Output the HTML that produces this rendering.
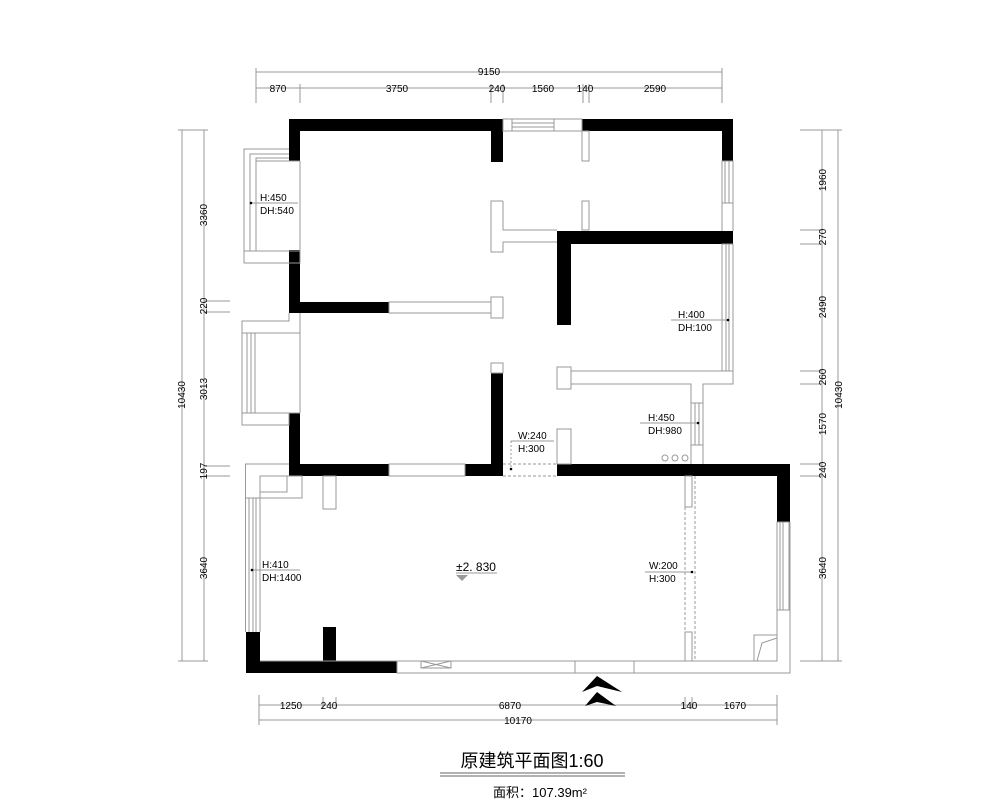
<!DOCTYPE html>
<html><head><meta charset="utf-8"><style>
html,body{margin:0;padding:0;background:#fff;}
svg{display:block;}
text{font-family:"Liberation Sans","Noto Sans CJK SC",sans-serif;fill:#000;}
.t{stroke:#999;stroke-width:1;fill:none;}
.w{fill:#000;}
.d{font-size:10px;}
</style></head><body>
<svg width="1000" height="811" viewBox="0 0 1000 811" xmlns="http://www.w3.org/2000/svg">
<!-- black walls -->
<g class="w">
<rect x="289" y="119" width="214" height="12"/>
<rect x="491" y="119" width="12" height="43"/>
<rect x="582" y="119" width="151" height="12"/>
<rect x="722" y="119" width="11" height="42"/>
<rect x="289" y="119" width="11" height="42"/>
<rect x="289" y="250" width="11" height="63"/>
<rect x="289" y="302" width="100" height="11"/>
<rect x="289" y="413" width="11" height="63"/>
<rect x="289" y="464" width="100" height="12"/>
<rect x="465" y="464" width="38" height="12"/>
<rect x="491" y="373" width="12" height="103"/>
<rect x="557" y="231" width="14" height="94"/>
<rect x="557" y="231" width="176" height="13"/>
<rect x="557" y="464" width="233" height="12"/>
<rect x="777" y="464" width="13" height="58"/>
<rect x="246" y="632" width="14" height="41"/>
<rect x="246" y="661" width="151" height="12"/>
<rect x="323" y="627" width="13" height="46"/>
</g>
<!-- thin lines -->
<g class="t">
<!-- top window -->
<rect x="503" y="119" width="79" height="12"/>
<line x1="512" y1="123" x2="554" y2="123"/><line x1="512" y1="127" x2="554" y2="127"/>
<line x1="512" y1="119" x2="512" y2="131"/><line x1="554" y1="119" x2="554" y2="131"/>
<rect x="582" y="131" width="7" height="30"/>
<rect x="582" y="201" width="7" height="29"/>
<!-- T partition -->
<polyline points="503,201 491,201 491,252 503,252 503,242 557,242"/>
<polyline points="503,201 503,230 557,230"/>
<!-- right top window -->
<rect x="722" y="161" width="11" height="42"/>
<line x1="725" y1="161" x2="725" y2="203"/><line x1="729" y1="161" x2="729" y2="203"/>
<line x1="722" y1="203" x2="722" y2="231"/><line x1="733" y1="203" x2="733" y2="231"/>
<!-- right wall below L -->
<rect x="722" y="244" width="11" height="127"/>
<line x1="726" y1="244" x2="726" y2="371"/><line x1="729" y1="244" x2="729" y2="371"/>
<polyline points="571,371 733,371 733,384 703,384 703,464"/>
<polyline points="571,384 691,384 691,464"/>
<rect x="557" y="367" width="14" height="22"/>
<rect x="691" y="403" width="12" height="42"/>
<line x1="695" y1="403" x2="695" y2="445"/><line x1="699" y1="403" x2="699" y2="445"/>
<rect x="557" y="429" width="14" height="35"/>
<!-- left upper window -->
<polyline points="289,149 244,149 244,263 300,263 300,250"/>
<line x1="244" y1="251" x2="300" y2="251"/>
<polyline points="289,154 250,154 250,251"/>
<polyline points="289,158 256,158 256,251"/>
<line x1="256" y1="161" x2="300" y2="161"/>
<line x1="300" y1="161" x2="300" y2="250"/>
<!-- left middle window -->
<polyline points="289,313 289,321 242,321 242,425 289,425 289,413"/>
<line x1="242" y1="333" x2="300" y2="333"/>
<line x1="242" y1="413" x2="300" y2="413"/>
<line x1="247" y1="333" x2="247" y2="413"/><line x1="251" y1="333" x2="251" y2="413"/><line x1="255" y1="333" x2="255" y2="413"/>
<line x1="300" y1="313" x2="300" y2="413"/>
<!-- thin walls -->
<rect x="389" y="302" width="102" height="11"/>
<rect x="491" y="297" width="12" height="21"/>
<rect x="389" y="464" width="76" height="12"/>
<rect x="491" y="363" width="12" height="10"/>
<!-- opening dashed -->
<line x1="503" y1="464" x2="557" y2="464" stroke-dasharray="3,2"/>
<line x1="503" y1="476" x2="557" y2="476" stroke-dasharray="3,2"/>
<line x1="511" y1="441" x2="511" y2="469" stroke-dasharray="2,2"/>
<!-- lower left -->
<polyline points="289,464 245.5,464 245.5,632"/>
<line x1="260" y1="476" x2="289" y2="476"/>
<rect x="260" y="476" width="42" height="22"/>
<polyline points="260,492 287,492 287,476"/>
<line x1="249" y1="498" x2="249" y2="632"/><line x1="253" y1="498" x2="253" y2="632"/><line x1="256" y1="498" x2="256" y2="632"/>
<line x1="260" y1="498" x2="260" y2="632"/>
<line x1="245.5" y1="498" x2="260" y2="498"/>
<rect x="323" y="476" width="13" height="33"/>
<!-- bottom -->
<line x1="260" y1="661" x2="685" y2="661"/>
<line x1="692" y1="661" x2="777" y2="661"/>
<polyline points="397,661 397,673 790,673 790,522"/>
<line x1="575" y1="661" x2="575" y2="673"/><line x1="634" y1="661" x2="634" y2="673"/>
<rect x="421" y="661" width="30" height="7"/>
<line x1="421" y1="661" x2="451" y2="668"/><line x1="421" y1="668" x2="451" y2="661"/>
<!-- right partition -->
<rect x="685" y="476" width="7" height="31"/>
<rect x="685" y="632" width="7" height="29"/>
<line x1="685" y1="507" x2="685" y2="632" stroke-dasharray="3,2"/>
<line x1="695" y1="476" x2="695" y2="661" stroke-dasharray="3,2"/>
<!-- right window -->
<rect x="777" y="522" width="12" height="88"/>
<line x1="780" y1="522" x2="780" y2="610"/><line x1="783" y1="522" x2="783" y2="610"/>
<line x1="777" y1="610" x2="777" y2="661"/>
<rect x="754" y="635" width="23" height="26"/>
<polyline points="757,661 762,643 777,638"/>
<!-- circles -->
<circle cx="665" cy="458" r="3"/><circle cx="675" cy="458" r="3"/><circle cx="685" cy="458" r="3"/>
<!-- label leaders -->
<line x1="250" y1="203" x2="298" y2="203"/>
<line x1="671" y1="320" x2="728" y2="320"/>
<line x1="640" y1="423" x2="698" y2="423"/>
<line x1="511" y1="441" x2="554" y2="441"/>
<line x1="252" y1="570" x2="300" y2="570"/>
<line x1="645" y1="572" x2="692" y2="572"/>
<line x1="456" y1="573" x2="497" y2="573"/>
<!-- dims top -->
<line x1="256" y1="72" x2="722" y2="72"/>
<line x1="256" y1="88" x2="722" y2="88"/>
<line x1="256" y1="68" x2="256" y2="103"/><line x1="722" y1="68" x2="722" y2="103"/>
<line x1="300" y1="84" x2="300" y2="103"/><line x1="491" y1="84" x2="491" y2="103"/><line x1="503" y1="84" x2="503" y2="103"/>
<line x1="583" y1="84" x2="583" y2="103"/><line x1="589" y1="84" x2="589" y2="103"/>
<!-- dims left -->
<line x1="182" y1="130" x2="182" y2="661"/>
<line x1="204" y1="130" x2="204" y2="661"/>
<line x1="178" y1="130" x2="208" y2="130"/><line x1="178" y1="661" x2="208" y2="661"/>
<line x1="204" y1="301" x2="230" y2="301"/><line x1="204" y1="312" x2="230" y2="312"/>
<line x1="204" y1="466" x2="230" y2="466"/><line x1="204" y1="476" x2="230" y2="476"/>
<!-- dims right -->
<line x1="822" y1="130" x2="822" y2="661"/>
<line x1="838" y1="130" x2="838" y2="661"/>
<line x1="800" y1="130" x2="842" y2="130"/><line x1="800" y1="661" x2="842" y2="661"/>
<line x1="800" y1="230" x2="822" y2="230"/><line x1="800" y1="244" x2="822" y2="244"/>
<line x1="800" y1="371" x2="822" y2="371"/><line x1="800" y1="384" x2="822" y2="384"/>
<line x1="800" y1="464" x2="822" y2="464"/><line x1="800" y1="476" x2="822" y2="476"/>
<!-- dims bottom -->
<line x1="259" y1="705" x2="777" y2="705"/>
<line x1="259" y1="720" x2="777" y2="720"/>
<line x1="259" y1="695" x2="259" y2="725"/><line x1="777" y1="695" x2="777" y2="725"/>
<line x1="323" y1="697" x2="323" y2="709"/><line x1="336" y1="697" x2="336" y2="709"/>
<line x1="685" y1="697" x2="685" y2="709"/><line x1="692" y1="697" x2="692" y2="709"/>
<!-- title underline -->
<line x1="440" y1="773" x2="625" y2="773" stroke="#666"/>
<line x1="440" y1="776" x2="625" y2="776" stroke="#666"/>
</g>
<!-- dots -->
<g fill="#000"><circle cx="251" cy="203" r="1.3"/><circle cx="728" cy="320" r="1.3"/><circle cx="698" cy="423" r="1.3"/><circle cx="511" cy="469" r="1.3"/><circle cx="252" cy="570" r="1.3"/><circle cx="692" cy="572" r="1.3"/></g>
<!-- arrows -->
<polygon points="597,676 622,692 597,686 582,692" fill="#000"/>
<polygon points="597,692 616,706 597,702 585,706" fill="#000"/>
<polygon points="456,575 468,575 462,581" fill="#999"/>
<!-- labels -->
<g class="d">
<text x="260" y="201">H:450</text><text x="260" y="214">DH:540</text>
<text x="678" y="318">H:400</text><text x="678" y="331">DH:100</text>
<text x="648" y="421">H:450</text><text x="648" y="434">DH:980</text>
<text x="518" y="439">W:240</text><text x="518" y="452">H:300</text>
<text x="262" y="568">H:410</text><text x="262" y="581">DH:1400</text>
<text x="649" y="569">W:200</text><text x="649" y="582">H:300</text>
</g>
<text x="456" y="571" font-size="12">±2. 830</text>
<g class="d" text-anchor="middle">
<text x="489" y="75">9150</text>
<text x="278" y="92">870</text><text x="397" y="92">3750</text><text x="497" y="92">240</text>
<text x="543" y="92">1560</text><text x="585" y="92">140</text><text x="655" y="92">2590</text>
<text x="291" y="709">1250</text><text x="329" y="709">240</text><text x="510" y="709">6870</text>
<text x="689" y="709">140</text><text x="735" y="709">1670</text>
<text x="518" y="724">10170</text>
<text transform="translate(207,215) rotate(-90)">3360</text>
<text transform="translate(207,306) rotate(-90)">220</text>
<text transform="translate(207,389) rotate(-90)">3013</text>
<text transform="translate(207,471) rotate(-90)">197</text>
<text transform="translate(207,568) rotate(-90)">3640</text>
<text transform="translate(185,395) rotate(-90)">10430</text>
<text transform="translate(826,180) rotate(-90)">1960</text>
<text transform="translate(826,237) rotate(-90)">270</text>
<text transform="translate(826,307) rotate(-90)">2490</text>
<text transform="translate(826,377) rotate(-90)">260</text>
<text transform="translate(826,424) rotate(-90)">1570</text>
<text transform="translate(826,470) rotate(-90)">240</text>
<text transform="translate(826,568) rotate(-90)">3640</text>
<text transform="translate(842,395) rotate(-90)">10430</text>
</g>
<text x="532" y="767" font-size="18" text-anchor="middle">原建筑平面图1:60</text>
<text x="540" y="797" font-size="13" text-anchor="middle">面积：107.39m²</text>
</svg>
</body></html>
